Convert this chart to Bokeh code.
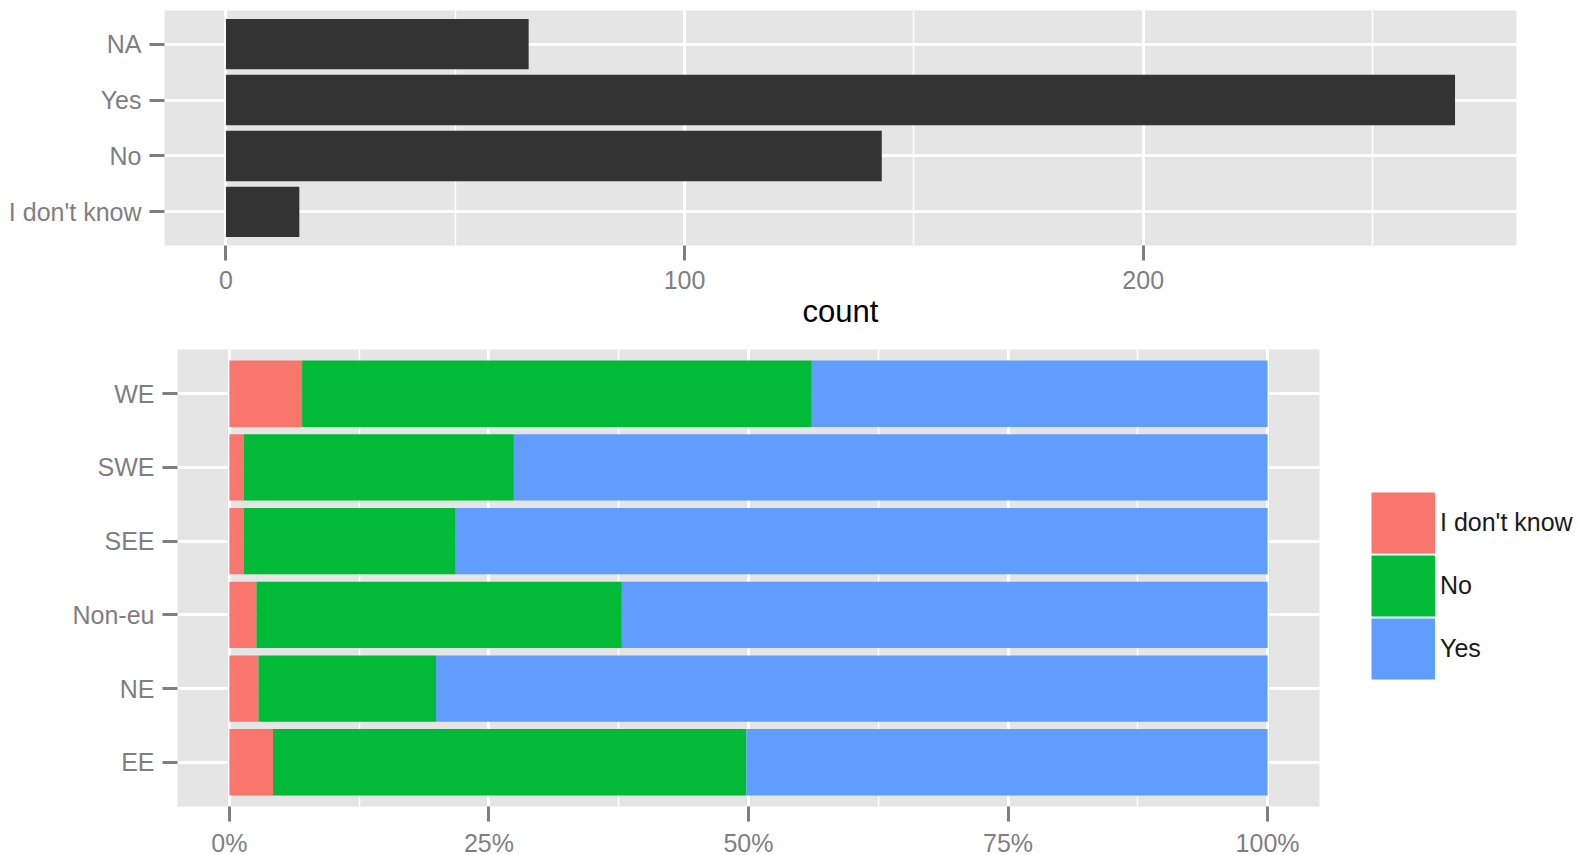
from bokeh.plotting import figure
from bokeh.models import (FactorRange, Range1d, FixedTicker, NumeralTickFormatter,
                          Legend, LegendItem, ColumnDataSource)
from bokeh.embed import file_html
from bokeh.resources import INLINE

# ---- data: top panel (counts of answers) ----
answers = ["I don't know", "No", "Yes", "NA"]
answer_counts = [16, 143, 268, 66]
count_ticks = [0, 100, 200]
count_minor = [50, 150, 250]

# ---- data: bottom panel (share of answers per region, %) ----
regions = ["EE", "NE", "Non-eu", "SEE", "SWE", "WE"]
pct_dont_know = [4.2, 2.8, 2.6, 1.4, 1.4, 7.0]
pct_no = [45.6, 17.1, 35.2, 20.4, 26.0, 49.1]
pct_yes = [50.2, 80.1, 62.2, 78.2, 72.6, 43.9]
series_names = ["I don't know", "No", "Yes"]
series_colors = ["#F8766D", "#00BA38", "#619CFF"]
pct_ticks = [0, 0.25, 0.5, 0.75, 1.0]
pct_minor = [0.125, 0.375, 0.625, 0.875]

FONT = "Liberation Sans"
GREY50 = "#7F7F7F"
PANEL = "#E5E5E5"


def style_axes(p):
    for ax in (p.xaxis[0], p.yaxis[0]):
        ax.axis_line_color = None
        ax.major_tick_in = 0
        ax.major_tick_out = 15
        ax.major_tick_line_width = 3
        ax.major_tick_line_color = GREY50
        ax.minor_tick_line_color = None
        ax.major_label_text_font = FONT
        ax.major_label_text_font_size = "25px"
        ax.major_label_text_color = GREY50
    p.xaxis.major_label_standoff = 10
    p.yaxis.major_label_standoff = 8
    p.xgrid.grid_line_color = "white"
    p.xgrid.grid_line_width = 3
    p.xgrid.minor_grid_line_color = "white"
    p.xgrid.minor_grid_line_width = 1.5
    p.ygrid.grid_line_color = "white"
    p.ygrid.grid_line_width = 3


# ---------------- top figure ----------------
cmax = max(answer_counts)
p1 = figure(
    y_range=FactorRange(factors=answers, range_padding=0.1, range_padding_units="absolute"),
    x_range=Range1d(-0.05 * cmax, 1.05 * cmax),
    frame_width=1352, frame_height=235,
    min_border_left=164, min_border_right=59, min_border_top=10, min_border_bottom=93,
    output_backend="svg", toolbar_location=None,
    background_fill_color=PANEL, border_fill_color="white", outline_line_color=None,
)
p1.hbar(y=answers, left=0, right=answer_counts, height=0.9,
        fill_color="#333333", line_color=None)
p1.xaxis.ticker = FixedTicker(ticks=count_ticks, minor_ticks=count_minor)
style_axes(p1)
p1.xaxis.axis_label = "count"
p1.xaxis.axis_label_text_font = FONT
p1.xaxis.axis_label_text_font_size = "31px"
p1.xaxis.axis_label_text_font_style = "normal"
p1.xaxis.axis_label_text_color = "black"
p1.xaxis.axis_label_standoff = 2

# ---------------- bottom figure ----------------
lefts = [0.0] * len(regions)
pcts = [pct_dont_know, pct_no, pct_yes]
totals = [a + b + c for a, b, c in zip(pct_dont_know, pct_no, pct_yes)]
p2 = figure(
    y_range=FactorRange(factors=regions, range_padding=0.1, range_padding_units="absolute"),
    x_range=Range1d(-0.05, 1.05),
    frame_width=1142, frame_height=457,
    min_border_left=177, min_border_right=256, min_border_top=11, min_border_bottom=49,
    output_backend="svg", toolbar_location=None,
    background_fill_color=PANEL, border_fill_color="white", outline_line_color=None,
)
items = []
for name, color, vals in zip(series_names, series_colors, pcts):
    frac = [v / t for v, t in zip(vals, totals)]
    rights = [l + f for l, f in zip(lefts, frac)]
    ds = ColumnDataSource(dict(region=regions, left=list(lefts), right=rights))
    r = p2.hbar(y="region", left="left", right="right", height=0.9, source=ds,
                fill_color=color, line_color=None)
    # off-screen thick line: only used to draw a full-size legend key
    key = p2.line(x=[-10, -9], y=[regions[0], regions[0]], line_width=61,
                  line_color=color, line_cap="butt")
    items.append(LegendItem(label=name, renderers=[key, r]))
    lefts = rights

p2.xaxis.ticker = FixedTicker(ticks=pct_ticks, minor_ticks=pct_minor)
p2.xaxis.formatter = NumeralTickFormatter(format="0%")
style_axes(p2)
p2.xaxis.major_label_standoff = 7

legend = Legend(
    items=items,
    location=(52, 126.5),
    glyph_width=64, glyph_height=63, spacing=0, padding=0, margin=0,
    label_standoff=5, label_text_font=FONT, label_text_font_size="25px",
    label_text_color="#1A1A1A", border_line_color=None, background_fill_alpha=0,
)
p2.add_layout(legend, "right")

open("out.html", "w").write(file_html([p1, p2], INLINE))
